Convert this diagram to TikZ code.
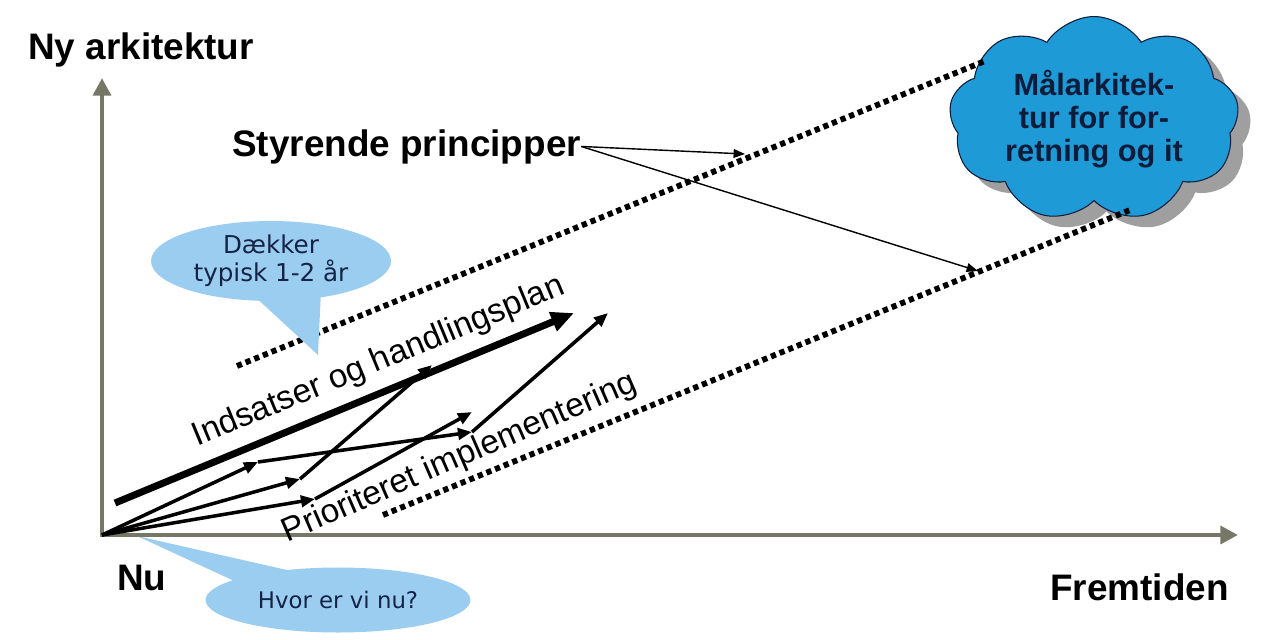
\documentclass[tikz,border=0pt]{standalone}
\usepackage{fontspec}
\setmainfont{Liberation Sans}
\newfontfamily\bubblefont{DejaVu Sans}
\usetikzlibrary{arrows.meta,shapes.symbols,shapes.callouts,shadows}
\definecolor{axisgray}{RGB}{119,119,104}
\definecolor{cloudblue}{RGB}{30,155,215}
\definecolor{cloudtext}{RGB}{12,28,58}
\definecolor{bubblefill}{RGB}{155,205,240}
\definecolor{bubbletext}{RGB}{20,35,70}

\begin{document}
\begin{tikzpicture}[x = 0.02cm, y = -0.02cm,
    axisline/.style = {axisgray, line width = 2.6pt, {Triangle[length=10pt,width=10pt]}-{Triangle[length=10pt,width=10pt]}},
    fatarrow/.style = {line width = 4pt, -{Triangle[length=13pt,width=11pt]}},
    steparrow/.style = {line width = 2pt, -{Triangle[length=8pt,width=6.5pt]}},
    hintarrow/.style = {line width = 0.8pt, -{Triangle[length=6.5pt,width=5pt]}},
    dotline/.style = {line width = 3.3pt, dash pattern = on 3pt off 2.3pt},
    axistext/.style = {font = \fontsize{21}{25}\selectfont\bfseries, inner sep = 0pt, anchor = base west},
    slanttext/.style = {font = \fontsize{19}{23}\selectfont, inner sep = 0pt, anchor = base},
    bubblenode/.style = {ellipse callout, fill = bubblefill, text = bubbletext, align = center,
                         font = \bubblefont\fontsize{13}{15.5}\selectfont, inner sep = 0pt}]
  \useasboundingbox (0,0) rectangle (1267,639);

  % callout below the axis
  \node[bubblenode, minimum width = 5.3cm, minimum height = 1.3cm,
        callout absolute pointer = {(137,536)}, callout pointer arc = 30] (now) at (338,600) {Hvor er vi nu?};

  % axes
  \coordinate (O) at (102,535);
  \coordinate (ytop) at (102,78);
  \coordinate (xend) at (1238,535);
  \draw[axisline] (ytop) -- (O) -- (xend);
  \node[axistext] (yname) at (28,59) {Ny arkitektur};
  \node[axistext] (xname) at (1050,600) {Fremtiden};
  \node[axistext] (origin) at (117,590) {Nu};

  % target cloud
  \node[cloud, cloud puffs = 9, cloud puff arc = 115, cloud ignores aspect, draw = cloudtext, line width = 0.6pt,
        fill = cloudblue, text = cloudtext, align = center, font = \fontsize{17.5}{19}\selectfont\bfseries,
        inner sep = 0pt, minimum width = 5.8cm, minimum height = 4.1cm,
        drop shadow = {shadow xshift = 0.25cm, shadow yshift = -0.22cm, fill = gray!75, opacity = 1}]
        (goal) at (1094,119) {Målarkitek-\\tur for for-\\retning og it};

  % corridor
  \coordinate (u0) at (237,366);
  \coordinate (u1) at (985,61);
  \coordinate (l0) at (383,515);
  \coordinate (l1) at (1130,210);
  \draw[dotline] (u0) -- (u1);
  \draw[dotline] (l0) -- (l1);

  \node[bubblenode, minimum width = 4.8cm, minimum height = 1.6cm, font = \bubblefont\fontsize{14}{16}\selectfont,
        callout absolute pointer = {(318,355)}, callout pointer arc = 30] (years) at (271,261) {Dækker\\typisk 1-2 år};

  % principles
  \node[axistext] (styr) at (232,156) {Styrende principper};
  \coordinate (p1) at (745,154);
  \coordinate (p2) at (978,271);
  \draw[hintarrow] (styr.east) -- (p1);
  \draw[hintarrow] (styr.east) -- (p2);

  % steps
  \coordinate (t0) at (115,503);
  \coordinate (t1) at (574,313);
  \coordinate (a1) at (258,462);
  \coordinate (a2) at (472,432);
  \coordinate (b1) at (300,479);
  \coordinate (b2) at (432,365);
  \coordinate (c1) at (315,499);
  \coordinate (c2) at (472,412);
  \coordinate (d2) at (608,313);
  \draw[fatarrow] (t0) -- (t1);
  \draw[steparrow] (O) -- (a1);
  \draw[steparrow] (a1) -- (a2);
  \draw[steparrow] (O) -- (b1);
  \draw[steparrow] (b1) -- (b2);
  \draw[steparrow] (O) -- (c1);
  \draw[steparrow] (c1) -- (c2);
  \draw[steparrow] (a2) -- (d2);

  \node[slanttext, rotate = 22.5] (plan) at (382,370) {Indsatser og handlingsplan};
  \node[slanttext, rotate = 23.5] (prio) at (463,466) {Prioriteret implementering};
\end{tikzpicture}
\end{document}
